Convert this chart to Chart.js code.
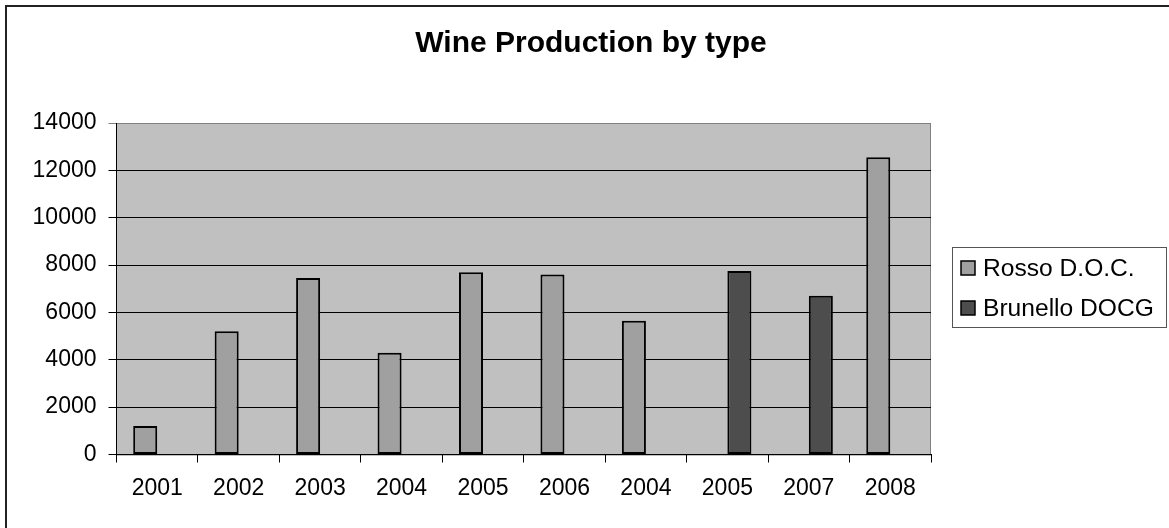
<!DOCTYPE html>
<html>
<head>
<meta charset="utf-8">
<script src="https://cdn.jsdelivr.net/npm/chart.js@4"></script>
<style>
  html, body { margin: 0; padding: 0; background: #fff; }
  canvas { display: block; }
</style>
</head>
<body>
<canvas id="wineChart" width="1169" height="528"></canvas>
<script>
// Categories as printed under each bar (the sheet repeats 2004/2005)
const years = ["2001", "2002", "2003", "2004", "2005", "2006", "2004", "2005", "2007", "2008"];

// Values (null = no bar for that series)
const rosso = [1200, 5200, 7450, 4300, 7700, 7600, 5650, null, null, 12550];
const brunello = [null, null, null, null, null, null, null, 7750, 6700, null];

const seriesNames = ["Rosso D.O.C.", "Brunello DOCG"];
const chartTitle = "Wine Production by type";
const yTicks = { min: 0, max: 14000, step: 2000 };

const FONT = "'Liberation Sans', Arial, sans-serif";

// Grey plot area, outer frame and title, Excel style
const backdrop = {
    id: "backdrop",
    beforeDraw(chart) {
        const { ctx, chartArea: a } = chart;
        ctx.save();
        ctx.fillStyle = "#fff";
        ctx.fillRect(0, 0, chart.width, chart.height);
        // chart frame: only top and left edges are visible in the crop
        ctx.strokeStyle = "#222";
        ctx.lineWidth = 2;
        ctx.beginPath();
        ctx.moveTo(6, chart.height);
        ctx.lineTo(6, 6);
        ctx.lineTo(chart.width, 6);
        ctx.stroke();
        // title is centred on the whole chart, not on the plot
        ctx.fillStyle = "#000";
        ctx.font = "bold 30px " + FONT;
        ctx.textAlign = "center";
        ctx.textBaseline = "middle";
        ctx.fillText(chartTitle, 591, 44);
        ctx.fillStyle = "#c0c0c0";
        ctx.fillRect(a.left, a.top, a.right - a.left, a.bottom - a.top);
        ctx.strokeStyle = "#808080";
        ctx.lineWidth = 1;
        ctx.strokeRect(a.left, a.top + 0.5, a.right - a.left - 0.5, a.bottom - a.top);
        ctx.restore();
    }
};

// Boxed legend on the right
const boxLegend = {
    id: "boxLegend",
    afterDraw(chart) {
        const { ctx } = chart;
        const x = 952.5, y = 247.5, w = 214, h = 80;
        ctx.save();
        ctx.fillStyle = "#fff";
        ctx.fillRect(x, y, w, h);
        ctx.strokeStyle = "#555";
        ctx.lineWidth = 1;
        ctx.strokeRect(x, y, w, h);
        ctx.font = "24.6px " + FONT;
        ctx.textBaseline = "middle";
        chart.data.datasets.forEach((ds, i) => {
            const cy = 268 + i * 40;
            ctx.fillStyle = ds.backgroundColor;
            ctx.fillRect(961, cy - 7, 14, 14);
            ctx.strokeStyle = "#000";
            ctx.lineWidth = 1.5;
            ctx.strokeRect(961, cy - 7, 14, 14);
            ctx.fillStyle = "#000";
            ctx.fillText(ds.label, 983, cy + 1);
        });
        ctx.restore();
    }
};

new Chart(document.getElementById("wineChart"), {
    type: "bar",
    data: {
        labels: years,
        datasets: [
            {
                label: seriesNames[0],
                data: rosso,
                backgroundColor: "#a0a0a0",
                borderColor: "#000",
                borderWidth: 2,
                borderSkipped: false,
                barPercentage: 1,
                categoryPercentage: 0.59
            },
            {
                label: seriesNames[1],
                data: brunello,
                backgroundColor: "#4d4d4d",
                borderColor: "#000",
                borderWidth: 2,
                borderSkipped: false,
                barPercentage: 1,
                categoryPercentage: 0.59
            }
        ]
    },
    options: {
        responsive: false,
        devicePixelRatio: 1,
        animation: false,
        layout: { padding: { left: 0, right: 238, top: 123, bottom: 0 } },
        plugins: {
            legend: { display: false },
            tooltip: { enabled: false },
            title: { display: false }
        },
        scales: {
            y: {
                min: yTicks.min,
                max: yTicks.max,
                afterFit: (s) => { s.width = 116.5; },
                ticks: {
                    stepSize: yTicks.step,
                    color: "#000",
                    padding: 12,
                    font: { family: FONT, size: 23 },
                    callback: (v) => String(v)
                },
                grid: {
                    color: (c) => (c.tick && c.tick.value === yTicks.max ? "#808080" : "#000"),
                    lineWidth: 1,
                    tickLength: 8
                },
                border: { color: "#000", width: 1 }
            },
            x: {
                afterFit: (s) => { s.height = 73.5; },
                ticks: {
                    color: "#000",
                    padding: 12,
                    maxRotation: 0,
                    font: { family: FONT, size: 23 }
                },
                grid: {
                    drawOnChartArea: false,
                    color: "#000",
                    tickLength: 8,
                    offset: true
                },
                border: { color: "#000", width: 1 }
            }
        }
    },
    plugins: [backdrop, boxLegend]
});
</script>
</body>
</html>
